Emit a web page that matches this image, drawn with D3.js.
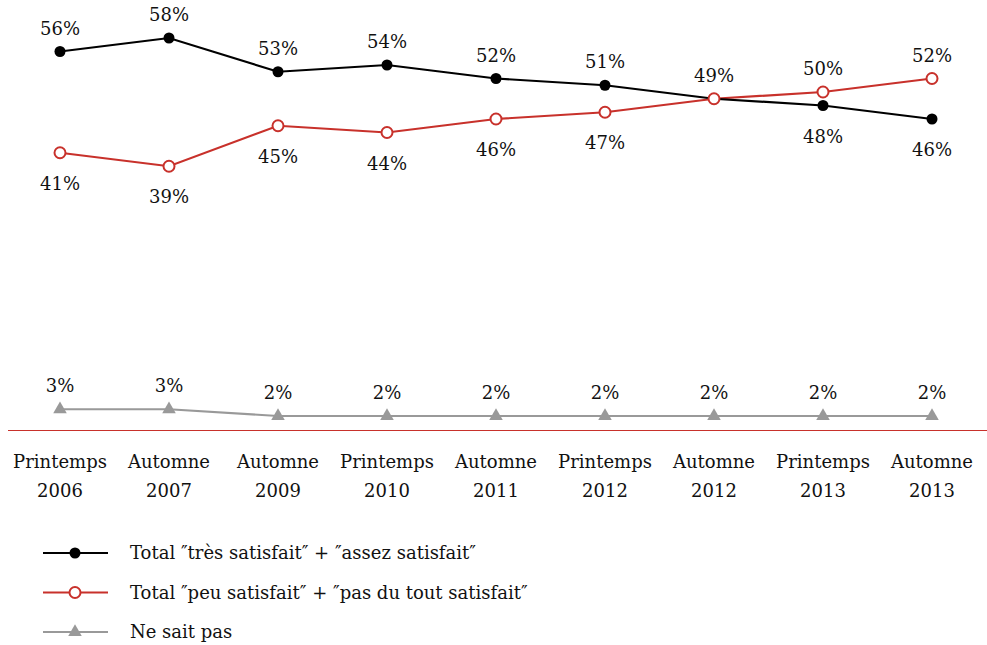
<!DOCTYPE html>
<html><head><meta charset="utf-8">
<script src="https://cdn.jsdelivr.net/npm/d3@7"></script>
<style>body{margin:0;background:#fff}svg{display:block}text{font-family:"DejaVu Serif",serif;fill:#111}</style>
</head><body><svg id="c" width="987" height="645"></svg>
<script>
const seasons = ["Printemps","Automne","Automne","Printemps","Automne","Printemps","Automne","Printemps","Automne"];
const years = ["2006","2007","2009","2010","2011","2012","2012","2013","2013"];
const satisfied = [56,58,53,54,52,51,49,48,46];
const unsatisfied = [41,39,45,44,46,47,49,50,52];
const dontKnow = [3,3,2,2,2,2,2,2,2];
const seriesNames = ['Total ″très satisfait″ + ″assez satisfait″','Total ″peu satisfait″ + ″pas du tout satisfait″','Ne sait pas'];

const FS = 18;
const svg = d3.select("#c");
const idx = d3.range(seasons.length);
const x = d3.scalePoint().domain(idx).range([60,932]);
const y = d3.scaleLinear().domain([0,60]).range([429.5,24.5]);
const black="#000", red="#c8312b", gray="#999";
const fmt = v => v + "%";

svg.append("line").attr("x1",8).attr("x2",987).attr("y1",430.5).attr("y2",430.5).attr("stroke",red).attr("stroke-width",1);

const xa = svg.append("g");
idx.forEach(i=>{
  const t = xa.append("text").attr("x",x(i)).attr("text-anchor","middle").attr("font-size",FS);
  t.append("tspan").attr("x",x(i)).attr("y",468).text(seasons[i]);
  t.append("tspan").attr("x",x(i)).attr("y",497).text(years[i]);
});

const line = d3.line().x((d,i)=>x(i)).y(d=>y(d));
const series = [
  {vals:satisfied, other:unsatisfied, color:black, marker:"dot"},
  {vals:unsatisfied, other:satisfied, color:red, marker:"ring"},
  {vals:dontKnow, other:null, color:gray, marker:"tri"}
];
function drawMarker(g, type, cx, cy){
  if(type==="dot") g.append("circle").attr("cx",cx).attr("cy",cy).attr("r",5.5).attr("fill",black);
  else if(type==="ring") g.append("circle").attr("cx",cx).attr("cy",cy).attr("r",5.5).attr("fill","#fff").attr("stroke",red).attr("stroke-width",2);
  else g.append("path").attr("d",d3.symbol(d3.symbolTriangle,80)()).attr("transform",`translate(${cx},${cy})`).attr("fill",gray);
}
series.slice().reverse().forEach(s=>{
  svg.append("path").datum(s.vals).attr("d",line).attr("fill","none").attr("stroke",s.color).attr("stroke-width",2.2);
});
[series[2],series[0],series[1]].forEach(s=>{
  const g = svg.append("g");
  s.vals.forEach((v,i)=>{
    drawMarker(g,s.marker,x(i),y(v));
    if(s.color===red && v===s.other[i]) return; // shared label already drawn
    const above = s.other===null || v>=s.other[i];
    g.append("text").attr("x",x(i)).attr("y",y(v)+(above?-17:37)).attr("text-anchor","middle").attr("font-size",FS).text(fmt(v));
  });
});

const leg = svg.append("g");
series.forEach((s,k)=>{
  const ly = 553 + k*39.5;
  leg.append("line").attr("x1",43).attr("x2",108).attr("y1",ly).attr("y2",ly).attr("stroke",s.color).attr("stroke-width",2.2);
  drawMarker(leg,s.marker,75,ly);
  leg.append("text").attr("x",130).attr("y",ly+6).attr("font-size",FS).text(seriesNames[k]);
});
</script></body></html>
